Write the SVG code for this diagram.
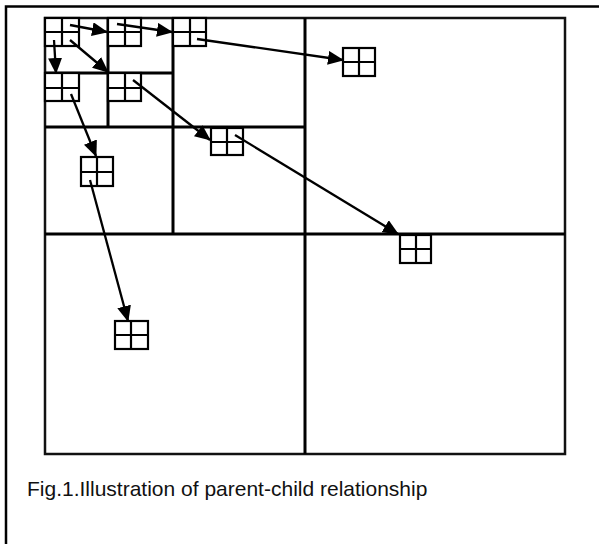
<svg xmlns="http://www.w3.org/2000/svg" width="599" height="544" viewBox="0 0 599 544">
  <style>
    .frame { fill: none; stroke: #000; stroke-width: 2.5; }
    .box { fill: none; stroke: #111; stroke-width: 2.5; }
    .div { fill: none; stroke: #000; stroke-width: 3; }
    .cell { fill: #fff; stroke: #000; stroke-width: 2.2; }
    .mid { stroke: #000; stroke-width: 2.2; }
    .conn { fill: none; stroke: #000; stroke-width: 2.3; marker-end: url(#ah); }
    .cap { font-family: "Liberation Sans", Arial, sans-serif; font-size: 21px; fill: #111; }
  </style>
  <defs>
    <marker id="ah" markerUnits="userSpaceOnUse" markerWidth="16" markerHeight="14" viewBox="0 0 16 14" refX="15" refY="7" orient="auto">
      <path d="M0,0 L16,7 L0,14 Z" fill="#000"/>
    </marker>
  </defs>
  <rect width="599" height="544" fill="#fff"/>
  <g id="frame">
    <path class="frame" d="M6,544 V6.5 H599"/>
  </g>
  <g id="quadtree">
    <rect class="box" x="45" y="18" width="520" height="436"/>
    <path class="div" d="M305,18 V454 M45,234 H565 M173,18 V234 M45,127 H305 M108,18 V127 M45,73 H173"/>
  </g>
  <g id="g1"><rect class="cell" x="45" y="18" width="34" height="28"/><path class="mid" d="M62,18 V46 M45,32 H79"/></g>
  <g id="g2"><rect class="cell" x="108" y="18" width="33" height="28"/><path class="mid" d="M125,18 V46 M108,32 H141"/></g>
  <g id="g3"><rect class="cell" x="173" y="18" width="33" height="28"/><path class="mid" d="M190,18 V46 M173,32 H206"/></g>
  <g id="g4"><rect class="cell" x="45" y="73" width="34" height="28"/><path class="mid" d="M62,73 V101 M45,88 H79"/></g>
  <g id="g5"><rect class="cell" x="108" y="73" width="33" height="28"/><path class="mid" d="M125,73 V101 M108,88 H141"/></g>
  <g id="g6"><rect class="cell" x="343" y="48" width="32" height="28"/><path class="mid" d="M359,48 V76 M343,62 H375"/></g>
  <g id="g7"><rect class="cell" x="211" y="128" width="32" height="27"/><path class="mid" d="M227,128 V155 M211,142 H243"/></g>
  <g id="g8"><rect class="cell" x="81" y="157" width="32" height="29"/><path class="mid" d="M97,157 V186 M81,172 H113"/></g>
  <g id="g9"><rect class="cell" x="400" y="235" width="31" height="28"/><path class="mid" d="M416,235 V263 M400,249 H431"/></g>
  <g id="g10"><rect class="cell" x="115" y="321" width="33" height="28"/><path class="mid" d="M131,321 V349 M115,335 H148"/></g>
  <g id="connectors">
    <line class="conn" x1="70" y1="25" x2="107" y2="32"/>
    <line class="conn" x1="117" y1="24" x2="172" y2="32"/>
    <line class="conn" x1="197" y1="39" x2="343" y2="60"/>
    <line class="conn" x1="54" y1="40" x2="56" y2="73"/>
    <line class="conn" x1="70" y1="40" x2="108" y2="72"/>
    <line class="conn" x1="71" y1="94" x2="96" y2="156"/>
    <line class="conn" x1="133" y1="80" x2="210" y2="140"/>
    <line class="conn" x1="235" y1="135" x2="398" y2="234"/>
    <line class="conn" x1="90" y1="180" x2="128" y2="321"/>
  </g>
  <text class="cap" x="27" y="496">Fig.1.Illustration of parent-child relationship</text>
</svg>
